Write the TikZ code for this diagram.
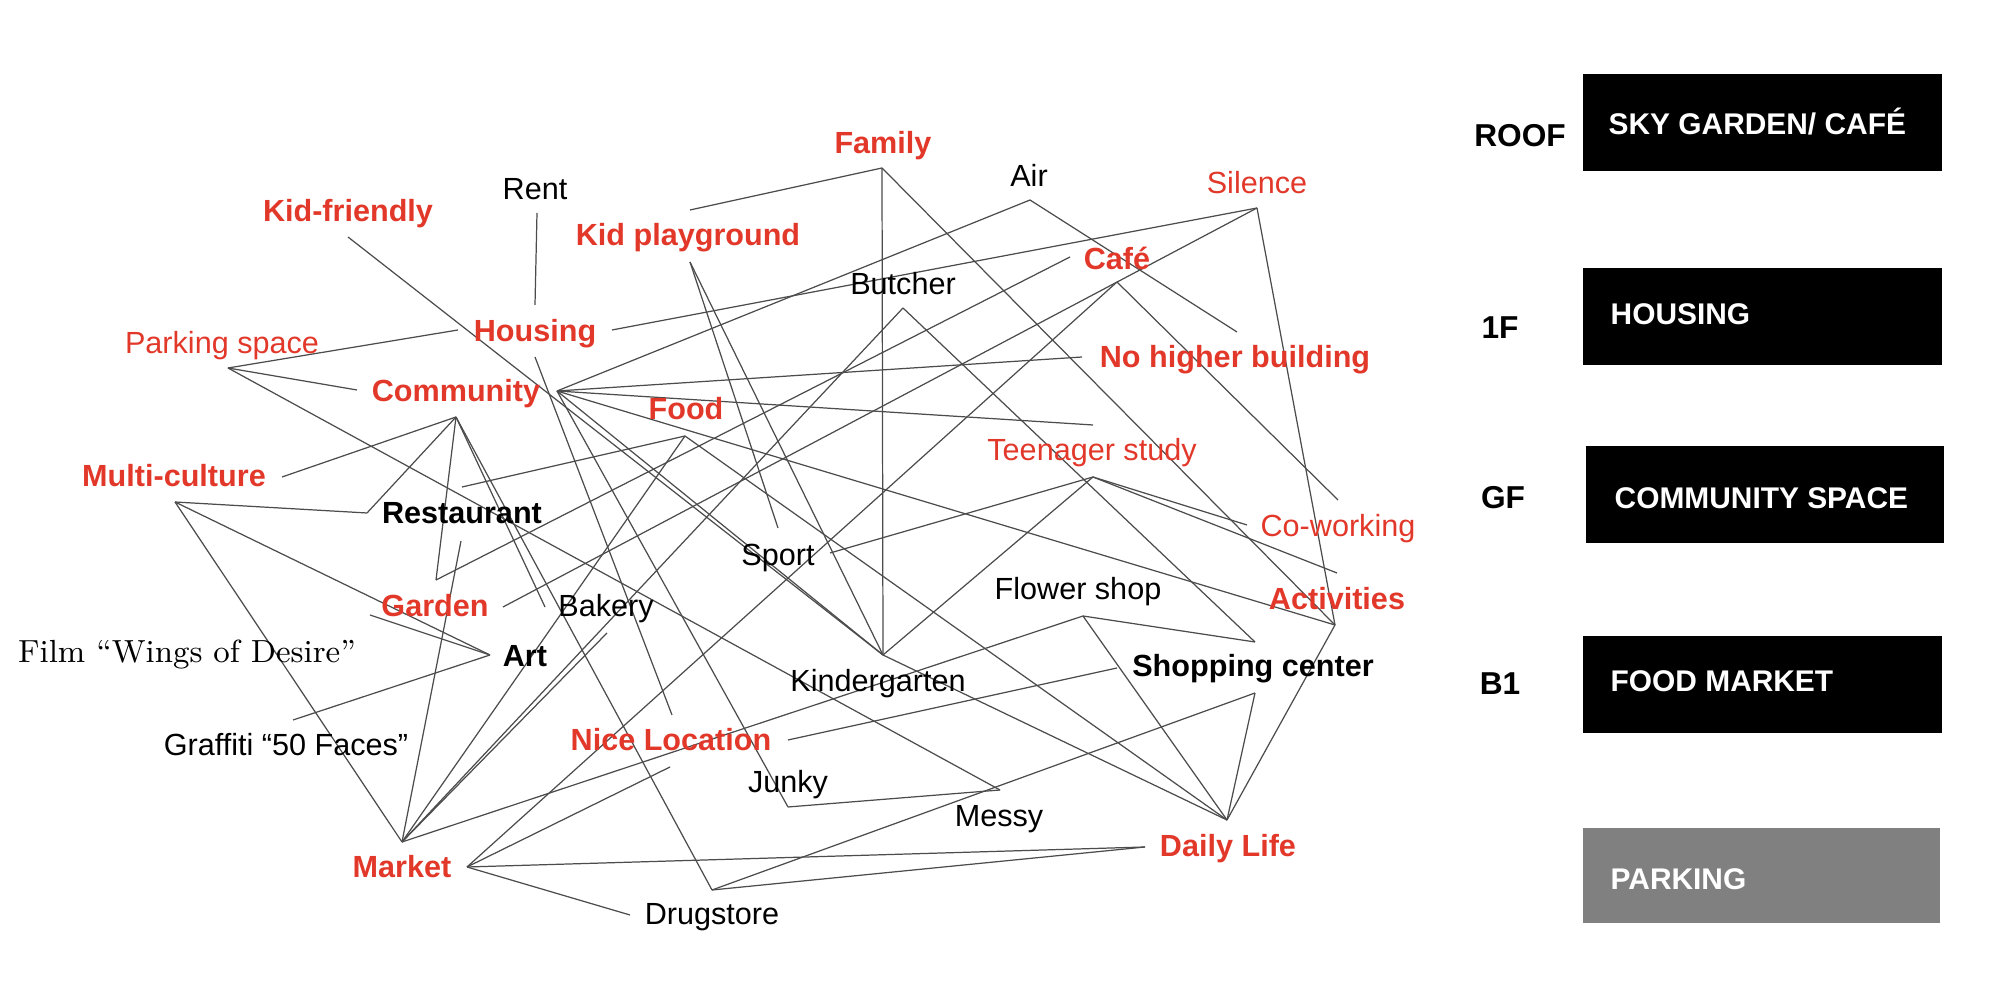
\documentclass[tikz,border=0pt]{standalone}
\usepackage{fontspec}
\newfontfamily\arialfont{Liberation Sans}
\usepackage{xcolor}
\definecolor{wishred}{HTML}{E2382A}
\definecolor{wishgrey}{HTML}{808080}
\usepackage{tikz}

\begin{document}
\begin{tikzpicture}[x=0.01cm, y=-0.01cm,
    link/.style={draw=black!70, line width=0.35pt},
    word/.style={font=\arialfont\fontsize{8.7}{10}\selectfont, inner sep=0pt, anchor=base},
    strong/.style={word, font=\arialfont\bfseries\fontsize{8.7}{10}\selectfont},
    hotword/.style={strong, text=wishred},
    softword/.style={word, text=wishred},
    floor/.style={font=\arialfont\bfseries\fontsize{9}{10}\selectfont, inner sep=0pt, anchor=base},
    leveltext/.style={font=\arialfont\bfseries\fontsize{8.5}{10}\selectfont, text=white, inner sep=0pt, anchor=base west}]
    \useasboundingbox (0,0) rectangle (2011,1001);

    \foreach \n/\x/\y in {kfE/348/237, parkH/228/368, housL/458/330, commL/357/390,
        multiE/282/477, commB/456/417, multiH/175/502, restL/367/513, restTR/462/487,
        commR/557/391, foodH/685/436, gardTL/436/580, restB/461/541, gardR/503/607,
        bakL/545/607, famL/690/210, famH/882/168, rentB/537/213, housT/535/305,
        kidH/690/262, housR/612/330, housB/535/357, butH/903/308, airH/1030/200,
        silH/1257/208, cafeH/1117/282, cafeL/1070/257, airE/1237/332, nohiE/1082/357,
        teenE/1093/425, teenH/1093/477, coworkE/1338/500, coworkF/1247/525, actE/1337/573,
        actH/1335/625, kinH/883/655, sportR/830/553, sportT/778/528, artH/490/655,
        gardBL/370/615, graffE/293/720, markH/402/842, markG/467/867, bakB/607/633,
        niceT/672/715, niceR/788/740, niceB/670/767, shopL/1117/668, shopR/1255/642,
        shopB/1255/693, flowH/1083/616, dailyH/1227/820, dailyL/1145/847, junkH/788/807,
        messH/1000/790, drugH/712/890, drugL/630/915}
      \coordinate (\n) at (\x,\y);

    \foreach \a/\b in {kfE/kinH, parkH/housL, parkH/commL, parkH/messH, multiE/commB,
        commB/restL, restL/multiH, commB/gardTL, gardTL/cafeL, restTR/foodH,
        commR/airH, commR/nohiE, commR/teenE, commR/actH, commR/kinH, commR/junkH,
        rentB/housT, famH/famL, famH/kinH, famH/actH, housR/silH, airH/airE,
        silH/gardR, silH/actH, cafeH/coworkE, kidH/kinH, kidH/sportT, kinH/teenH,
        sportR/teenH, teenH/coworkF, teenH/actE, multiH/artH, gardBL/artH, graffE/artH,
        multiH/markH, restB/markH, markH/foodH, markH/butH, markH/bakB, markH/flowH,
        butH/shopR, foodH/dailyH, kinH/dailyH, commB/bakL, commB/drugH, housB/niceT,
        niceR/shopL, markG/niceB, markG/cafeH, markG/dailyL, markG/drugL, drugH/dailyL,
        drugH/shopB, junkH/messH, flowH/shopR, flowH/dailyH, shopB/dailyH, actH/dailyH}
      \draw[link] (\a) -- (\b);

    \node[hotword] (family) at (883,154) {Family};
    \node[hotword] (kidfriendly) at (348,222) {Kid-friendly};
    \node[hotword] (kidplay) at (688,246) {Kid playground};
    \node[hotword] (cafe) at (1117,270) {Café};
    \node[hotword] (housing) at (535,342) {Housing};
    \node[hotword] (nohigher) at (1235,368) {No higher building};
    \node[hotword] (community) at (456,402) {Community};
    \node[hotword] (food) at (686,420) {Food};
    \node[hotword] (multi) at (174,487) {Multi-culture};
    \node[hotword] (garden) at (435,617) {Garden};
    \node[hotword] (activities) at (1337,610) {Activities};
    \node[hotword] (niceloc) at (671,751) {Nice Location};
    \node[hotword] (daily) at (1228,857) {Daily Life};
    \node[hotword] (market) at (402,878) {Market};

    \node[softword] (parking) at (222,354) {Parking space};
    \node[softword] (silence) at (1257,194) {Silence};
    \node[softword] (teen) at (1092,461) {Teenager study};
    \node[softword] (cowork) at (1338,537) {Co-working};

    \node[word] (rent) at (535,200) {Rent};
    \node[word] (air) at (1029,187) {Air};
    \node[word] (butcher) at (903,295) {Butcher};
    \node[word] (sport) at (778,566) {Sport};
    \node[word] (bakery) at (606,617) {Bakery};
    \node[word] (flower) at (1078,600) {Flower shop};
    \node[word] (kinder) at (878,692) {Kindergarten};
    \node[word] (graffiti) at (286,756) {Graffiti “50 Faces”};
    \node[word] (junky) at (788,793) {Junky};
    \node[word] (messy) at (999,827) {Messy};
    \node[word] (drug) at (712,925) {Drugstore};

    \node[strong] (restaurant) at (462,524) {Restaurant};
    \node[strong] (art) at (525,667) {Art};
    \node[strong] (shopping) at (1253,677) {Shopping center};

    \node[font=\fontsize{9.1}{11}\selectfont, inner sep=0pt, anchor=base] (film)
      at (187,663) {Film “Wings of Desire”};

    \fill[black] (1583,74) rectangle (1942,171);
    \fill[black] (1583,268) rectangle (1942,365);
    \fill[black] (1586,446) rectangle (1944,543);
    \fill[black] (1583,636) rectangle (1942,733);
    \fill[wishgrey] (1583,828) rectangle (1940,923);

    \node[floor] (roof) at (1520,147) {ROOF};
    \node[floor] (first) at (1500,339) {1F};
    \node[floor] (ground) at (1503,509) {GF};
    \node[floor] (base) at (1500,695) {B1};

    \node[leveltext] (sky) at (1608,135) {SKY GARDEN/ CAFÉ};
    \node[leveltext] (homes) at (1610,325) {HOUSING};
    \node[leveltext] (commons) at (1614,509) {COMMUNITY SPACE};
    \node[leveltext] (foodmarket) at (1610,692) {FOOD MARKET};
    \node[leveltext] (park) at (1610,890) {PARKING};
  \end{tikzpicture}
\end{document}
